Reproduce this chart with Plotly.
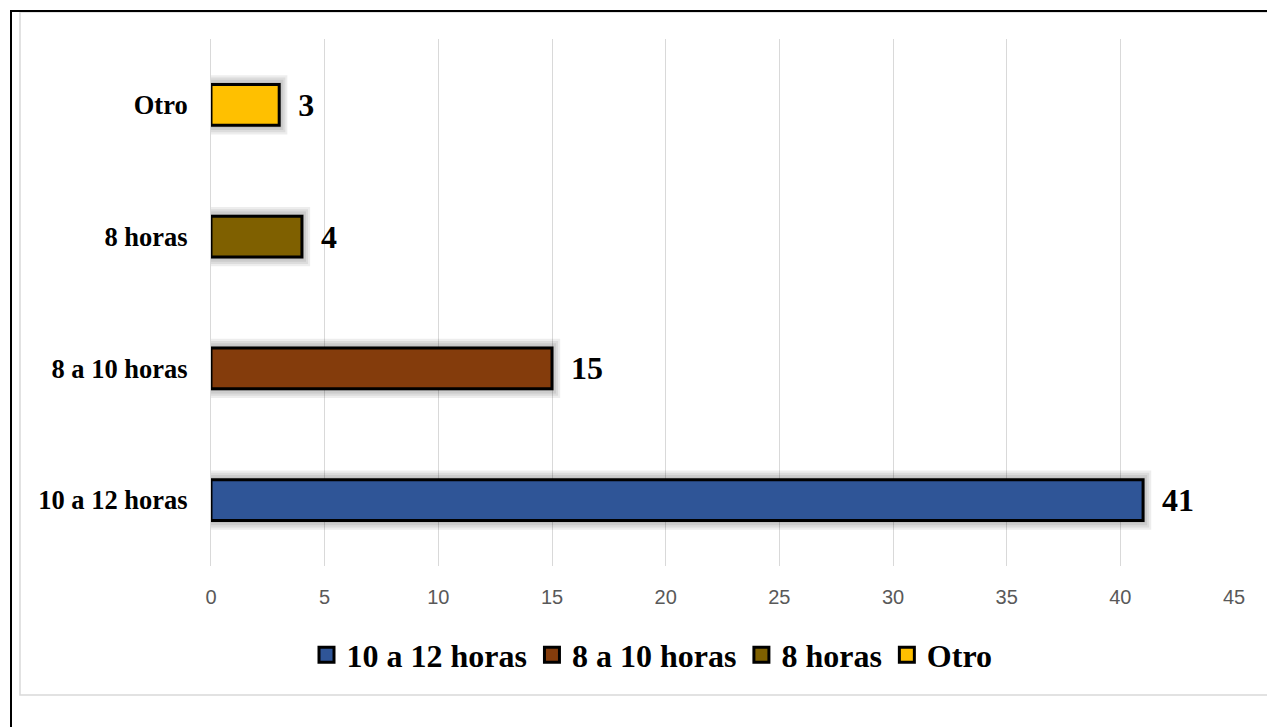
import plotly.graph_objects as go

# datos
categorias = ["10 a 12 horas", "8 a 10 horas", "8 horas", "Otro"]
valores = [41, 15, 4, 3]
colores = ["#2F5597", "#843C0C", "#7F6000", "#FFC000"]
ticks_x = [0, 5, 10, 15, 20, 25, 30, 35, 40, 45]

fig = go.Figure()

# sombra difusa detras de cada barra
for k in range(1, 5):
    fig.add_trace(go.Bar(
        y=categorias, x=[v + 0.09 * k for v in valores], orientation="h",
        width=0.31 + 0.035 * k, marker=dict(color="rgba(0,0,0,0.07)", line=dict(width=0)),
        showlegend=False, hoverinfo="skip",
    ))

for cat, val, col in zip(categorias, valores, colores):
    fig.add_trace(go.Bar(
        y=[cat], x=[val], name=cat, orientation="h", width=0.31,
        marker=dict(color=col, line=dict(color="black", width=3)),
        text=[val], texttemplate="  %{x}", textposition="outside",
        textfont=dict(family="Liberation Serif", size=32, color="black", weight="bold"),
        cliponaxis=False, showlegend=False,
    ))

# entradas de la leyenda con cuadro grande de borde negro
for cat, col in zip(categorias, colores):
    fig.add_trace(go.Scatter(
        x=[None], y=[None], mode="markers", name=cat,
        marker=dict(symbol="square", size=15, color=col, line=dict(color="black", width=3)),
    ))

# la pagina tiene 8 px de margen: coordenadas en pixeles de la pagina
OFF = 8
FW, FH = 1275 - OFF, 727 - OFF
L, T, W, H = 211 - OFF, 39 - OFF, 1023, 527
def px(x): return (x - OFF - L) / W
def py(y): return (T + H - (y - OFF)) / H

# bordes del grafico (gris interior, negro exterior)
fig.add_shape(type="rect", xref="paper", yref="paper",
              x0=px(20), x1=px(1273), y0=py(695), y1=py(12),
              line=dict(color="#D9D9D9", width=1.5), layer="below")
fig.add_shape(type="rect", xref="paper", yref="paper",
              x0=px(11), x1=px(1290), y0=py(740), y1=py(11),
              line=dict(color="black", width=2), layer="below")

fig.update_layout(
    width=FW, height=FH,
    margin=dict(l=L, r=FW - L - W, t=T, b=FH - T - H),
    barmode="overlay",
    plot_bgcolor="white", paper_bgcolor="white",
    showlegend=True,
    legend=dict(orientation="h", x=px(652), xanchor="center", y=py(655), yanchor="middle",
                font=dict(family="Liberation Serif", size=32, color="black", weight="bold"),
                traceorder="normal", itemwidth=30),
    xaxis=dict(range=[0, 45], tickvals=ticks_x, showgrid=True, gridcolor="#D9D9D9",
               gridwidth=1, zeroline=False, showline=False, ticks="",
               ticklabelstandoff=17,
               tickfont=dict(family="Liberation Sans", size=20, color="#595959")),
    yaxis=dict(categoryorder="array", categoryarray=categorias, showgrid=False,
               zeroline=True, showline=True, linecolor="#D9D9D9", ticks="",
               ticklabelstandoff=17,
               tickfont=dict(family="Liberation Serif", size=26.5, color="black", weight="bold")),
)

fig.write_html("out.html")
